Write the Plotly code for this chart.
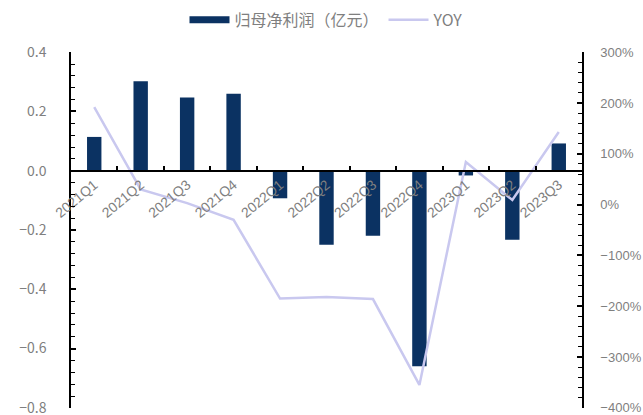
import plotly.graph_objects as go

quarters = ["2021Q1", "2021Q2", "2021Q3", "2021Q4", "2022Q1", "2022Q2",
            "2022Q3", "2022Q4", "2023Q1", "2023Q2", "2023Q3"]
profit = [0.114, 0.302, 0.247, 0.260, -0.093, -0.250, -0.219, -0.660, -0.016, -0.233, 0.092]
yoy = [192, 30, 3, -30, -185, -182, -186, -355, 84, 9, 143]
left_ticks = [0.4, 0.2, 0.0, -0.2, -0.4, -0.6, -0.8]
left_labels = ["0.4", "0.2", "0.0", "−0.2", "−0.4", "−0.6", "−0.8"]
right_ticks = [300, 200, 100, 0, -100, -200, -300, -400]
right_labels = ["300%", "200%", "100%", "0%", "−100%", "−200%", "−300%", "−400%"]

navy = "#0b3262"
lav = "#c9c8ef"
gray = "#7f7f7f"
font = "Noto Sans CJK SC"

fig = go.Figure()
fig.add_trace(go.Bar(x=quarters, y=profit, name="归母净利润（亿元）",
                     marker=dict(color=navy, line=dict(width=0)), width=0.31,
                     yaxis="y", showlegend=False, legendgroup="p"))
# legend entry drawn as a wide bar-like swatch
fig.add_trace(go.Scatter(x=[None], y=[None], name="归母净利润（亿元）", mode="lines",
                         line=dict(color=navy, width=7), legendgroup="p", yaxis="y"))
fig.add_trace(go.Scatter(x=quarters, y=yoy, name="YOY", mode="lines",
                         line=dict(color=lav, width=2.5), yaxis="y2"))

fig.update_layout(
    width=643, height=415,
    margin=dict(l=71, r=61, t=52, b=7),
    plot_bgcolor="white", paper_bgcolor="white",
    font=dict(family=font, color=gray, size=13),
    showlegend=True,
    legend=dict(orientation="h", x=0.5, xanchor="center", y=0.952, yanchor="middle",
                yref="container", font=dict(size=16, color=gray),
                itemwidth=40, bgcolor="rgba(0,0,0,0)", tracegroupgap=0),
    xaxis=dict(
        type="category", anchor="free", position=2/3, automargin=False,
        showline=True, linecolor="black", linewidth=1.5,
        ticks="inside", ticklen=4, tickcolor="black", tickwidth=1.5,
        tickson="boundaries", tickangle=-40,
        tickfont=dict(size=14, color=gray, family="Liberation Sans"),
        showgrid=False, zeroline=False,
    ),
    yaxis=dict(
        range=[-0.8005, 0.4005], tickmode="array", tickvals=left_ticks, ticktext=left_labels,
        automargin=False,
        showline=True, linecolor="black", linewidth=1.5,
        ticks="inside", ticklen=5, tickcolor="black", tickwidth=1.5,
        minor=dict(tickmode="linear", tick0=0, dtick=0.04, ticks="inside", ticklen=4,
                   tickcolor="black", tickwidth=1),
        showgrid=False, zeroline=False,
        tickfont=dict(size=14, color=gray), ticklabelstandoff=20,
        ticklabeloverflow="allow",
    ),
    yaxis2=dict(
        range=[-400.5, 300.5], tickmode="array", tickvals=right_ticks, ticktext=right_labels,
        overlaying="y", side="right", automargin=False,
        showline=True, linecolor="black", linewidth=1.5,
        ticks="inside", ticklen=5, tickcolor="black", tickwidth=1.5,
        minor=dict(tickmode="linear", tick0=0, dtick=20, ticks="inside", ticklen=4,
                   tickcolor="black", tickwidth=1),
        showgrid=False, zeroline=False,
        tickfont=dict(size=13, color=gray, family="Liberation Sans"), ticklabelstandoff=14,
        ticklabeloverflow="allow",
    ),
)

fig.write_html("out.html")
